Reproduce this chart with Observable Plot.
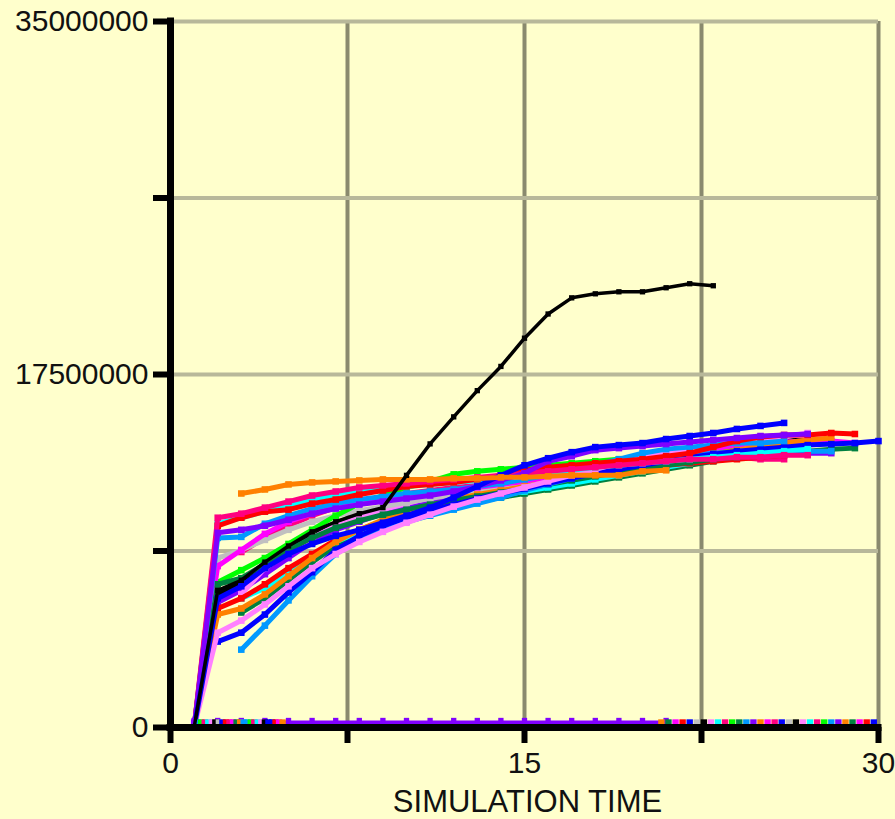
<!DOCTYPE html>
<html>
<head>
<meta charset="utf-8">
<script src="https://cdn.jsdelivr.net/npm/d3@7"></script>
<script src="https://cdn.jsdelivr.net/npm/@observablehq/plot@0.6"></script>
<style>
html, body { margin: 0; padding: 0; background: #ffffcc; }
#chart svg g[aria-label^="x-axis"] line,
#chart svg g[aria-label^="x-axis"] path,
#chart svg g[aria-label^="y-axis"] line,
#chart svg g[aria-label^="y-axis"] path { stroke-width: 6px; stroke: #000; }
</style>
</head>
<body>
<div id="chart"></div>
<script>
// ---------- axis ticks ----------
const xTicks = [0, 7.5, 15, 22.5, 30];
const xTickLabels = ["0", "", "15", "", "30"];
const yTicks = [0, 8750000, 17500000, 26250000, 35000000];
const yTickLabels = ["0", "", "17500000", "", "35000000"];
const xGrid = [7.5, 15, 22.5, 30];
const yGrid = [8750000, 17500000, 26250000, 35000000];
const xTitle = "SIMULATION TIME";

// ---------- series values (millions), first value at the given start time, step 1 ----------
const blackB    = [0, 6.6, 7.2, 8.0, 8.8, 9.5, 10.0, 10.4, 10.7, 10.95, 11.15, 11.35, 11.55, 11.75, 11.95, 12.15, 12.35, 12.6, 12.85, 13.1, 13.35, 13.6, 13.85, 14.1, 14.3, 14.25, 14.2];
const purpleB   = [0, 6.2, 6.8, 7.6, 8.4, 9.2, 9.8, 10.2, 10.6, 10.9, 11.2, 11.45, 11.7, 11.95, 12.2, 12.45, 12.7, 12.95, 13.1, 13.3, 13.45, 13.55, 13.6, 13.65, 13.6, 13.6, 13.6, 13.6];
const greenB    = [5.7, 6.4, 7.3, 8.2, 9.0, 9.6, 10.0, 10.4, 10.7, 11.0, 11.2, 11.4, 11.6, 11.8, 12.0, 12.2, 12.4, 12.6, 12.8, 13.0, 13.2, 13.4, 13.5, 13.6];
const cyanB     = [6.4, 6.9, 7.7, 8.5, 9.2, 9.7, 10.1, 10.5, 10.8, 11.1, 11.3, 11.5, 11.7, 11.9, 12.1, 12.3, 12.5, 12.7, 12.9, 13.1, 13.3, 13.5, 13.6, 13.7, 13.8];
const deepPinkB = [8.7, 9.4, 10.0, 10.5, 10.9, 11.2, 11.4, 11.6, 11.75, 11.9, 12.0, 12.1, 12.2, 12.3, 12.5, 12.7, 12.9, 13.1, 13.2, 13.3, 13.4, 13.4, 13.3, 13.3];
const violetB   = [6.6, 7.9, 8.7, 9.4, 10.0, 10.4, 10.8, 11.1, 11.4, 11.6, 11.8, 12.0, 12.2, 12.4, 12.6, 12.8, 13.0, 13.2, 13.4, 13.6, 13.8, 14.0, 14.2, 14.4, 14.6];
const silverA   = [0, 8.4, 8.8, 9.3, 9.8, 10.2, 10.5, 10.75, 10.95, 11.15, 11.35, 11.55, 11.75, 11.95, 12.15, 12.35, 12.55, 12.75, 12.9, 13.05, 13.2, 13.3, 13.4, 13.5, 13.6, 13.6];
const limeA     = [0, 7.2, 7.8, 8.4, 9.1, 9.8, 10.5, 11.1, 11.5, 11.9, 12.2, 12.55, 12.7, 12.8, 12.9, 13.0, 13.1, 13.2, 13.3, 13.4, 13.5, 13.6, 13.7, 13.75, 13.75, 13.7, 13.7];
const magentaA  = [0, 8.0, 8.8, 9.6, 10.2, 10.6, 10.9, 11.1, 11.3, 11.45, 11.6, 11.75, 11.9, 12.05, 12.2, 12.4, 12.6, 12.8, 13.0, 13.2, 13.4, 13.6, 13.8, 14.0, 14.1, 14.15, 14.2, 14.2, 14.1];
const redB      = [0, 5.9, 6.4, 7.1, 7.9, 8.6, 9.3, 9.8, 10.25, 10.6, 10.9, 11.2, 11.45, 11.7, 11.9, 12.1, 12.3, 12.5, 12.7, 12.9, 13.0, 13.1, 13.2, 13.3, 13.4, 13.5];
const orangeB   = [0, 5.6, 5.9, 6.6, 7.5, 8.4, 9.2, 9.8, 10.3, 10.7, 11.0, 11.3, 11.55, 11.75, 11.95, 12.15, 12.35, 12.55, 12.75, 12.95, 13.15, 13.35, 13.55, 13.75, 13.95, 14.1, 14.25, 14.35];
const greenA    = [0, 7.1, 7.4, 8.1, 8.8, 9.4, 9.9, 10.25, 10.55, 10.8, 11.05, 11.25, 11.45, 11.65, 11.85, 12.05, 12.25, 12.45, 12.65, 12.85, 13.0, 13.15, 13.3, 13.4, 13.5, 13.6, 13.7, 13.8, 13.85];
const azureB    = [3.86, 5.05, 6.3, 7.5, 8.6, 9.35, 9.85, 10.2, 10.5, 10.8, 11.1, 11.4, 11.75, 12.05, 12.35, 12.65, 12.95, 13.2, 13.35, 13.5, 13.6, 13.65, 13.7, 13.7, 13.7, 13.7];
const blueB     = [4.26, 4.7, 5.6, 6.7, 7.7, 8.8, 9.5, 10.0, 10.4, 10.75, 11.05, 11.35, 11.6, 11.85, 12.1, 12.35, 12.6, 12.8, 13.0, 13.2, 13.4, 13.55, 13.7, 13.8, 13.9, 14.0, 14.05, 14.1, 14.2];
const violetA   = [0, 4.7, 5.3, 6.1, 7.0, 7.9, 8.6, 9.2, 9.7, 10.15, 10.55, 10.95, 11.3, 11.6, 11.9, 12.2, 12.5, 12.8, 13.1, 13.4, 13.6, 13.8, 14.0, 14.2, 14.35, 14.45, 14.5];
const azureA    = [0, 9.4, 9.45, 10.1, 10.5, 10.85, 11.1, 11.3, 11.45, 11.6, 11.7, 11.8, 11.95, 12.1, 12.3, 12.5, 12.75, 13.0, 13.3, 13.6, 13.8, 13.9, 14.0, 14.1, 14.1, 14.2];
const cyanA     = [0, 10.1, 10.4, 10.7, 11.0, 11.3, 11.55, 11.75, 11.85, 11.95, 12.05, 12.15, 12.25, 12.35, 12.45, 12.6, 12.75, 12.9, 13.0, 13.1, 13.2, 13.3, 13.4, 13.5, 13.6, 13.7, 13.8];
const redA      = [0, 10.0, 10.4, 10.7, 10.8, 11.1, 11.3, 11.55, 11.75, 11.95, 12.05, 12.15, 12.3, 12.5, 12.75, 12.9, 13.0, 13.1, 13.2, 13.3, 13.45, 13.6, 13.9, 14.2, 14.4, 14.5, 14.5, 14.6, 14.55];
const deepPinkA = [0, 10.4, 10.6, 10.9, 11.2, 11.5, 11.7, 11.9, 12.0, 12.1, 12.2, 12.3, 12.4, 12.5, 12.6, 12.7, 12.8, 12.9, 13.0, 13.1, 13.2, 13.3, 13.3, 13.4, 13.4, 13.5, 13.5];
const purpleA   = [0, 9.65, 9.8, 10.0, 10.3, 10.6, 10.85, 11.05, 11.2, 11.35, 11.5, 11.7, 11.95, 12.25, 12.6, 13.2, 13.45, 13.75, 13.85, 13.95, 14.05, 14.15, 14.25, 14.35, 14.45, 14.5, 14.55];
const blueA     = [0, 6.4, 7.0, 7.9, 8.6, 9.1, 9.5, 9.8, 10.15, 10.5, 10.9, 11.4, 11.95, 12.5, 13.0, 13.35, 13.65, 13.9, 14.0, 14.1, 14.3, 14.45, 14.6, 14.8, 14.95, 15.1];
const orangeA   = [11.6, 11.8, 12.05, 12.15, 12.2, 12.25, 12.3, 12.3, 12.3, 12.35, 12.35, 12.4, 12.4, 12.45, 12.5, 12.5, 12.5, 12.7, 12.75];
const blackA    = [0, 6.8, 7.3, 8.2, 9.0, 9.7, 10.2, 10.6, 10.9, 12.5, 14.06, 15.4, 16.7, 17.9, 19.3, 20.5, 21.3, 21.5, 21.6, 21.6, 21.8, 22.0, 21.9];
const purpleZero = [0, 0, 0, 0, 0, 0, 0, 0, 0, 0, 0, 0, 0, 0, 0, 0, 0, 0, 0, 0, 0];

// ---------- markers of runs sitting on zero ----------
const zeroLeftTimes  = [1.0, 1.15, 1.3, 1.45, 1.6, 1.75, 1.9, 2.05, 2.2, 2.35, 2.5, 2.65, 2.8, 2.95, 3.1, 3.25, 3.4, 3.55, 3.7, 3.85, 4.0, 4.15, 4.3, 4.45, 4.6, 4.75];
const zeroLeftColors = ["purple","azure","lime","deeppink","cyan","violet","black","silver","blue","red","deeppink","magenta","green","orange","azure","azure","lime","deeppink","cyan","violet","black","blue","blue","red","magenta","orange"];
const zeroRightTimes  = [20.8, 21.1, 21.4, 21.7, 22.0, 22.3, 22.6, 22.9, 23.2, 23.5, 23.8, 24.1, 24.4, 24.7, 25.0, 25.3, 25.6, 25.9, 26.2, 26.5, 26.8, 27.1, 27.4, 27.7, 28.0, 28.3, 28.6, 28.9, 29.2, 29.5, 29.8];
const zeroRightColors = ["orange","green","magenta","red","blue","silver","black","violet","cyan","deeppink","lime","green","azure","purple","orange","magenta","deeppink","blue","silver","black","violet","cyan","deeppink","lime","azure","purple","orange","green","magenta","red","blue"];

const palette = {
  black: "#000000", purple: "#8000ff", green: "#008040", cyan: "#00ffff", deeppink: "#ff0080",
  violet: "#ff80ff", silver: "#c0c0c0", lime: "#00ff00", magenta: "#ff00ff", red: "#ff0000",
  orange: "#ff8000", azure: "#0099ff", blue: "#0000ff"
};

// draw order: bottom to top
const seriesList = [
  {values: blackB, start: 1, color: "black"},
  {values: purpleB, start: 1, color: "purple"},
  {values: greenB, start: 3, color: "green"},
  {values: cyanB, start: 3, color: "cyan"},
  {values: deepPinkB, start: 3, color: "deeppink"},
  {values: violetB, start: 3, color: "violet"},
  {values: silverA, start: 1, color: "silver"},
  {values: limeA, start: 1, color: "lime"},
  {values: magentaA, start: 1, color: "magenta"},
  {values: redB, start: 1, color: "red"},
  {values: orangeB, start: 1, color: "orange"},
  {values: greenA, start: 1, color: "green"},
  {values: azureB, start: 3, color: "azure"},
  {values: blueB, start: 2, color: "blue"},
  {values: violetA, start: 1, color: "violet"},
  {values: azureA, start: 1, color: "azure"},
  {values: cyanA, start: 1, color: "cyan"},
  {values: redA, start: 1, color: "red"},
  {values: deepPinkA, start: 1, color: "deeppink"},
  {values: purpleA, start: 1, color: "purple"},
  {values: blueA, start: 1, color: "blue"},
  {values: orangeA, start: 3, color: "orange"}
];

const toRows = (s) => s.values.map((v, i) => ({t: s.start + i, v: v * 1e6}));

const marks = [];
marks.push(Plot.ruleX(xGrid, {stroke: "#8a8a6e", strokeWidth: 4}));
marks.push(Plot.ruleY(yGrid, {stroke: "#b8b89a", strokeWidth: 4}));

for (const s of seriesList) {
  const rows = toRows(s);
  const c = palette[s.color];
  marks.push(Plot.line(rows, {x: "t", y: "v", stroke: c, strokeWidth: 5}));
  marks.push(Plot.dot(rows.filter(d => d.v > 0), {x: "t", y: "v", symbol: "square", r: 3.7, fill: c, stroke: "none"}));
}

// zero run
const zeroRows = toRows({values: purpleZero, start: 1});
marks.push(Plot.line(zeroRows, {x: "t", y: "v", stroke: palette.purple, strokeWidth: 4, dy: -5}));
marks.push(Plot.dot(zeroRows, {x: "t", y: "v", symbol: "square", r: 3, fill: palette.purple, stroke: "none", dy: -7}));
const zeroMarks = zeroLeftTimes.map((t, i) => ({t, v: 0, c: palette[zeroLeftColors[i]]}))
  .concat(zeroRightTimes.map((t, i) => ({t, v: 0, c: palette[zeroRightColors[i]]})));
marks.push(Plot.dot(zeroMarks, {x: "t", y: "v", symbol: "square", r: 3.6, fill: d => d.c, stroke: "none", dy: -5}));

// outlier black run on top
const blackRows = toRows({values: blackA, start: 1});
marks.push(Plot.line(blackRows, {x: "t", y: "v", stroke: "#000", strokeWidth: 3.5}));
marks.push(Plot.dot(blackRows.filter(d => d.v > 0), {x: "t", y: "v", symbol: "square", r: 3, fill: "#000", stroke: "none"}));

// axes lines
marks.push(Plot.ruleX([0], {stroke: "#000", strokeWidth: 7, strokeLinecap: "square"}));
marks.push(Plot.ruleY([0], {stroke: "#000", strokeWidth: 7, strokeLinecap: "square"}));
marks.push(Plot.text([xTitle], {text: d => d, frameAnchor: "bottom", dy: 84, dx: 3, fontSize: 31, fill: "#111"}));

const xLabelMap = new Map(xTicks.map((t, i) => [t, xTickLabels[i]]));
const yLabelMap = new Map(yTicks.map((t, i) => [t, yTickLabels[i]]));

const chart = Plot.plot({
  width: 895,
  height: 819,
  marginLeft: 170,
  marginRight: 17,
  marginTop: 21,
  marginBottom: 92,
  style: {background: "#ffffcc", fontFamily: "'Liberation Sans', Arial, sans-serif", fontSize: "30px", color: "#111"},
  color: {type: "identity"},
  x: {domain: [0, 30], ticks: xTicks, tickFormat: d => xLabelMap.get(d) ?? "", tickSize: 16, tickPadding: 8, label: null},
  y: {domain: [0, 35000000], ticks: yTicks, tickFormat: d => yLabelMap.get(d) ?? "", tickSize: 17, tickPadding: 5, label: null},
  marks
});
document.getElementById("chart").appendChild(chart);
</script>
</body>
</html>
